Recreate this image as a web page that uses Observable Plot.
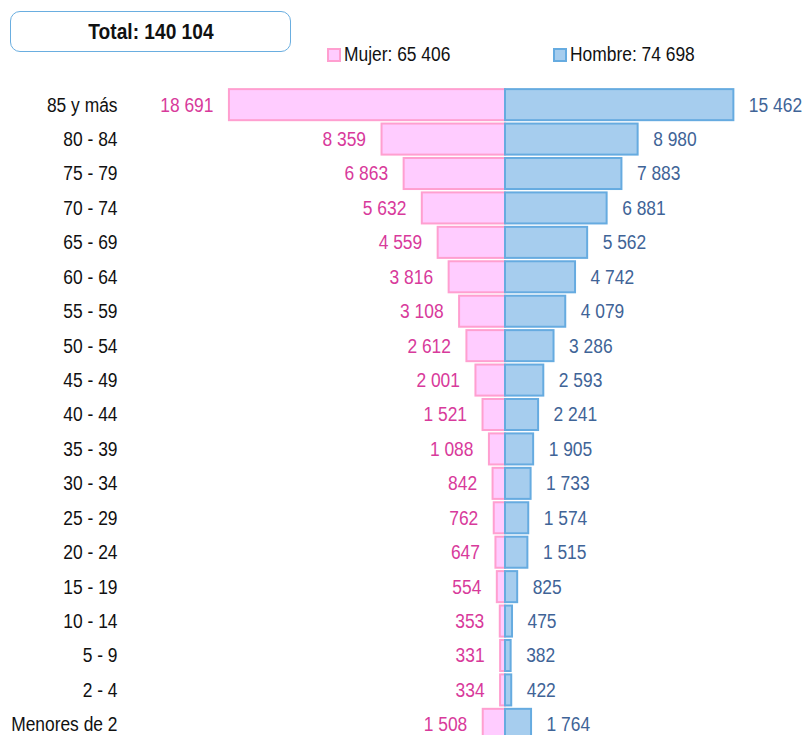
<!DOCTYPE html>
<html>
<head>
<meta charset="utf-8">
<script src="https://cdn.jsdelivr.net/npm/d3@7"></script>
<script src="https://cdn.jsdelivr.net/npm/@observablehq/plot@0.6"></script>
<style>
  html, body { margin: 0; padding: 0; background: #fff; overflow: hidden; }
  body { font-family: "Liberation Sans", Arial, sans-serif; }
  #wrap { position: relative; width: 803px; height: 735px; }
  #chart { position: absolute; left: 0; top: 0; }
  #total {
    position: absolute; left: 10px; top: 11px; width: 279px; height: 39px;
    border: 1.5px solid #6aaee0; border-radius: 10px;
    display: flex; align-items: center; justify-content: center;
    font-weight: bold; font-size: 22px; color: #111;
  }
  #total span { display: inline-block; transform: scaleX(0.87); }
  .leg { position: absolute; top: 43px; font-size: 20px; color: #111; display: flex; align-items: center; white-space: nowrap; }
  .leg .t { display: inline-block; transform: scaleX(0.87); transform-origin: left center; }
  .sw { width: 10px; height: 10px; border: 2px solid; margin-right: 3px; }
</style>
</head>
<body>
<div id="wrap">
  <div id="chart"></div>
  <div id="total"><span></span></div>
  <div class="leg" id="legM" style="left:327px"></div>
  <div class="leg" id="legH" style="left:553px"></div>
</div>
<script>
const ages = ["85 y más","80 - 84","75 - 79","70 - 74","65 - 69","60 - 64","55 - 59","50 - 54","45 - 49","40 - 44","35 - 39","30 - 34","25 - 29","20 - 24","15 - 19","10 - 14","5 - 9","2 - 4","Menores de 2"];
const mujer = [18691,8359,6863,5632,4559,3816,3108,2612,2001,1521,1088,842,762,647,554,353,331,334,1508];
const hombre = [15462,8980,7883,6881,5562,4742,4079,3286,2593,2241,1905,1733,1574,1515,825,475,382,422,1764];
const totalLabel = "Total: 140 104";
const legendLabels = ["Mujer: 65 406", "Hombre: 74 698"];

const fmt = d3.formatLocale({thousands: " ", grouping: [3], decimal: ",", currency: ["", ""]}).format(",d");
const fem = ages.map((a, i) => ({age: a, v: mujer[i]}));
const mal = ages.map((a, i) => ({age: a, v: hombre[i]}));

const FONT = `"Liberation Sans", Arial, sans-serif`;
const W = 803, H = 760;
const pxPerUnit = 0.01477;
const center = 505;
const SQUEEZE = 0.87;

const chart = Plot.plot({
  width: W, height: H,
  marginLeft: 0, marginRight: 0, marginTop: 86.75, marginBottom: H - 742.25,
  style: {fontFamily: FONT, fontSize: "20px", background: "transparent"},
  x: {domain: [-center / pxPerUnit, (W - center) / pxPerUnit], axis: null},
  y: {domain: ages, padding: 0.04, round: false, axis: null},
  marks: [
    Plot.barX(fem, {y: "age", x1: 0, x2: d => -d.v, fill: "#ffccff", stroke: "#ff9fd0", strokeWidth: 2, insetTop: 1, insetBottom: 1}),
    Plot.barX(mal, {y: "age", x1: 0, x2: d => d.v, fill: "#a6cdee", stroke: "#66abe0", strokeWidth: 2, insetTop: 1, insetBottom: 1}),
    Plot.ruleX([0], {stroke: "#cfcfcf", strokeWidth: 2.5, y1: ages[0], y2: ages[ages.length-1], insetTop: -16, insetBottom: -16}),
    Plot.text(fem, {y: "age", x: d => -d.v, text: d => fmt(d.v), dx: -16, textAnchor: "end", fill: "#d83a9b", fontSize: 20}),
    Plot.text(mal, {y: "age", x: d => d.v, text: d => fmt(d.v), dx: 15, textAnchor: "start", fill: "#3f6497", fontSize: 20}),
    Plot.text(ages, {y: d => d, text: d => d, frameAnchor: "left", dx: 117, textAnchor: "end", fill: "#111", fontSize: 20})
  ]
});
// horizontally condense text to imitate a narrow typeface
chart.querySelectorAll("text").forEach(t => {
  const tr = t.getAttribute("transform");
  if (tr) {
    t.setAttribute("transform", tr + ` scale(${SQUEEZE},1)`);
  } else {
    const x = +t.getAttribute("x") || 0, y = +t.getAttribute("y") || 0;
    t.setAttribute("x", 0); t.setAttribute("y", 0);
    t.setAttribute("transform", `translate(${x},${y}) scale(${SQUEEZE},1)`);
  }
});
document.getElementById("chart").appendChild(chart);
document.querySelector("#total span").textContent = totalLabel;
document.getElementById("legM").innerHTML = `<span class="sw" style="background:#ffccff;border-color:#ff9fd0"></span><span class="t">${legendLabels[0]}</span>`;
document.getElementById("legH").innerHTML = `<span class="sw" style="background:#a6cdee;border-color:#66abe0"></span><span class="t">${legendLabels[1]}</span>`;
</script>
</body>
</html>
